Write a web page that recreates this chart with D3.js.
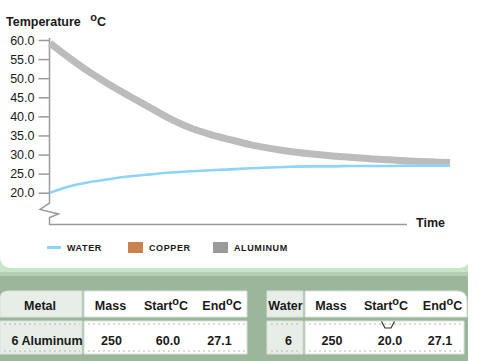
<!DOCTYPE html>
<html><head><meta charset="utf-8">
<script src="https://cdn.jsdelivr.net/npm/d3@7"></script>
<style>
html,body{margin:0;padding:0;background:#fff;}
svg{display:block;font-family:Arial,"Liberation Sans",sans-serif;}
</style></head>
<body>
<svg id="c" width="492" height="361"></svg>
<script>
// ---- data ----
const times = [0,20,40,60,80,100,120,140,160,180,200,220,240,260,280,300,320,340,360,380,400];
const aluminumTemps = [59.2,55.2,51.5,48.2,45.2,42.3,39.4,37.0,35.3,33.9,32.6,31.6,30.8,30.2,29.7,29.3,28.9,28.6,28.3,28.1,27.9];
const waterTemps = [20.0,21.7,22.8,23.6,24.3,24.8,25.3,25.6,25.9,26.1,26.4,26.6,26.8,26.9,26.9,27.0,27.0,27.0,27.1,27.1,27.1];
const yTicks = [20,25,30,35,40,45,50,55,60];
const legendItems = ["WATER","COPPER","ALUMINUM"];
const metalHeaders = ["Metal","Mass","Start","End"];
const metalRow = ["6 Aluminum","250","60.0","27.1"];
const waterHeaders = ["Water","Mass","Start","End"];
const waterRow = ["6","250","20.0","27.1"];

const svg = d3.select("#c");
const x = d3.scaleLinear().domain([0,400]).range([50,450]);
const y = d3.scaleLinear().domain([20,60]).range([192.7,40]);

// ---- bottom panels ----
const lightGreen = "#c7e5c7", panelGreen = "#9cb69c", cellBg = "#e7eee7";
svg.append("path").attr("fill", lightGreen)
  .attr("d","M0,256 H456 Q468,256 468,244 V361 H0 Z");
svg.append("rect").attr("x",0).attr("y",275).attr("width",468).attr("height",86).attr("fill",panelGreen);
svg.append("rect").attr("x",0).attr("y",272).attr("width",468).attr("height",4).attr("fill","#b3cfb3");
// white chart panel with rounded bottom corners
svg.append("path").attr("fill","#fff")
  .attr("d","M0,0 H492 V256 H470 Q470,268 458,268 H12 Q0,268 0,256 Z");

// ---- table ----
function cell(x0,y0,w,h,fill,rTL,rTR){
  const p = `M${x0+rTL},${y0} H${x0+w-rTR} Q${x0+w},${y0} ${x0+w},${y0+rTR} V${y0+h} H${x0} V${y0+rTL} Q${x0},${y0} ${x0+rTL},${y0} Z`;
  svg.append("path").attr("d",p).attr("fill",fill).attr("stroke","#d6e2d6").attr("stroke-width",1);
}
function dashes(x0,x1,yy){
  svg.append("line").attr("x1",x0).attr("x2",x1).attr("y1",yy).attr("y2",yy)
    .attr("stroke","#b8b8b8").attr("stroke-width",1).attr("stroke-dasharray","2,3");
}
// header row
cell(0,291,82,26,cellBg,8,0);
cell(84,291,163,26,"#fff",0,0);
cell(267,291,36,26,cellBg,0,0);
cell(305,291,162,26,"#fff",0,10);
// data row
cell(0,321,82,33,cellBg,0,0);
cell(84,321,163,33,"#fff",0,0);
cell(267,321,36,33,cellBg,0,0);
cell(305,321,159,33,"#fff",0,0);
dashes(4,80,324); dashes(4,80,351);
dashes(88,245,324); dashes(88,245,351);
dashes(271,301,324); dashes(271,301,351);
dashes(309,462,324); dashes(309,462,351);
// small tab marker
svg.append("path").attr("d","M381.5,321.5 L385,328 H391 L394.5,321.5")
  .attr("fill","none").attr("stroke","#333").attr("stroke-width",1.2);

function tableText(txt,cx,by,deg){
  const t = svg.append("text").attr("x",cx).attr("y",by).attr("text-anchor","middle")
    .attr("font-size",12.5).attr("font-weight","bold").attr("fill","#1a1a1a").text(txt);
  if(deg){
    t.append("tspan").attr("font-size",11).attr("dy",-5).text("o");
    t.append("tspan").attr("dy",5).text("C");
  }
}
const leftHX = [40,110.5,166,222], rightHX = [285.5,331,386,442.5];
metalHeaders.forEach((h,i)=>tableText(h,leftHX[i],310,i>=2));
waterHeaders.forEach((h,i)=>tableText(h,rightHX[i],310,i>=2));
const leftDX = [47,111.5,168,219.5], rightDX = [288.5,332,390,440];
metalRow.forEach((v,i)=>tableText(v,leftDX[i],345,false));
waterRow.forEach((v,i)=>tableText(v,rightDX[i],345,false));

// ---- axes ----
const axisColor = "#9a9a9a";
const yAxis = d3.axisLeft(y).tickValues(yTicks).tickFormat(d3.format(".1f")).tickSize(11).tickPadding(4);
const gy = svg.append("g").attr("transform","translate(49.5,0)").call(yAxis);
gy.select(".domain").remove();
gy.selectAll(".tick line").attr("stroke",axisColor).attr("stroke-width",1.5);
gy.selectAll(".tick text").attr("font-size",12.5).attr("fill","#1a1a1a")
  .attr("font-family",'Arial,"Liberation Sans",sans-serif');
svg.append("path").attr("fill","none").attr("stroke",axisColor).attr("stroke-width",1.5)
  .attr("d",`M49.5,38 V203 L40,209.5 L58.5,214 L49.5,217.5 V224.5 H407`);

// axis titles
const tt = svg.append("text").attr("x",6).attr("y",26).attr("font-size",12.5).attr("font-weight","bold").attr("fill","#1a1a1a");
tt.append("tspan").text("Temperature ");
tt.append("tspan").attr("dx",6).attr("font-size",11).attr("dy",-5).text("o");
tt.append("tspan").attr("dy",5).text("C");
svg.append("text").attr("x",416).attr("y",227).attr("font-size",12.5).attr("font-weight","bold").attr("fill","#1a1a1a").text("Time");

// ---- lines ----
const line = d3.line().x((d,i)=>x(times[i])).y(d=>y(d)).curve(d3.curveMonotoneX);
svg.append("path").datum(aluminumTemps).attr("d",line).attr("fill","none")
  .attr("stroke","#bcbcbc").attr("stroke-width",7);
svg.append("path").datum(waterTemps).attr("d",line).attr("fill","none")
  .attr("stroke","#8ed4f8").attr("stroke-width",2.6);

// ---- legend ----
const lg = svg.append("g");
lg.append("line").attr("x1",47).attr("x2",61).attr("y1",247.5).attr("y2",247.5).attr("stroke","#8ed4f8").attr("stroke-width",3);
lg.append("rect").attr("x",128).attr("y",242).attr("width",15).attr("height",11).attr("fill","#c8834f");
lg.append("rect").attr("x",213).attr("y",242).attr("width",15).attr("height",11).attr("fill","#9a9a9a");
const lx = [67,149,234];
legendItems.forEach((t,i)=>lg.append("text").attr("x",lx[i]).attr("y",251).attr("font-size",9)
  .attr("font-weight","bold").attr("letter-spacing",0.6).attr("fill","#1a1a1a").text(t));
</script>
</body></html>
